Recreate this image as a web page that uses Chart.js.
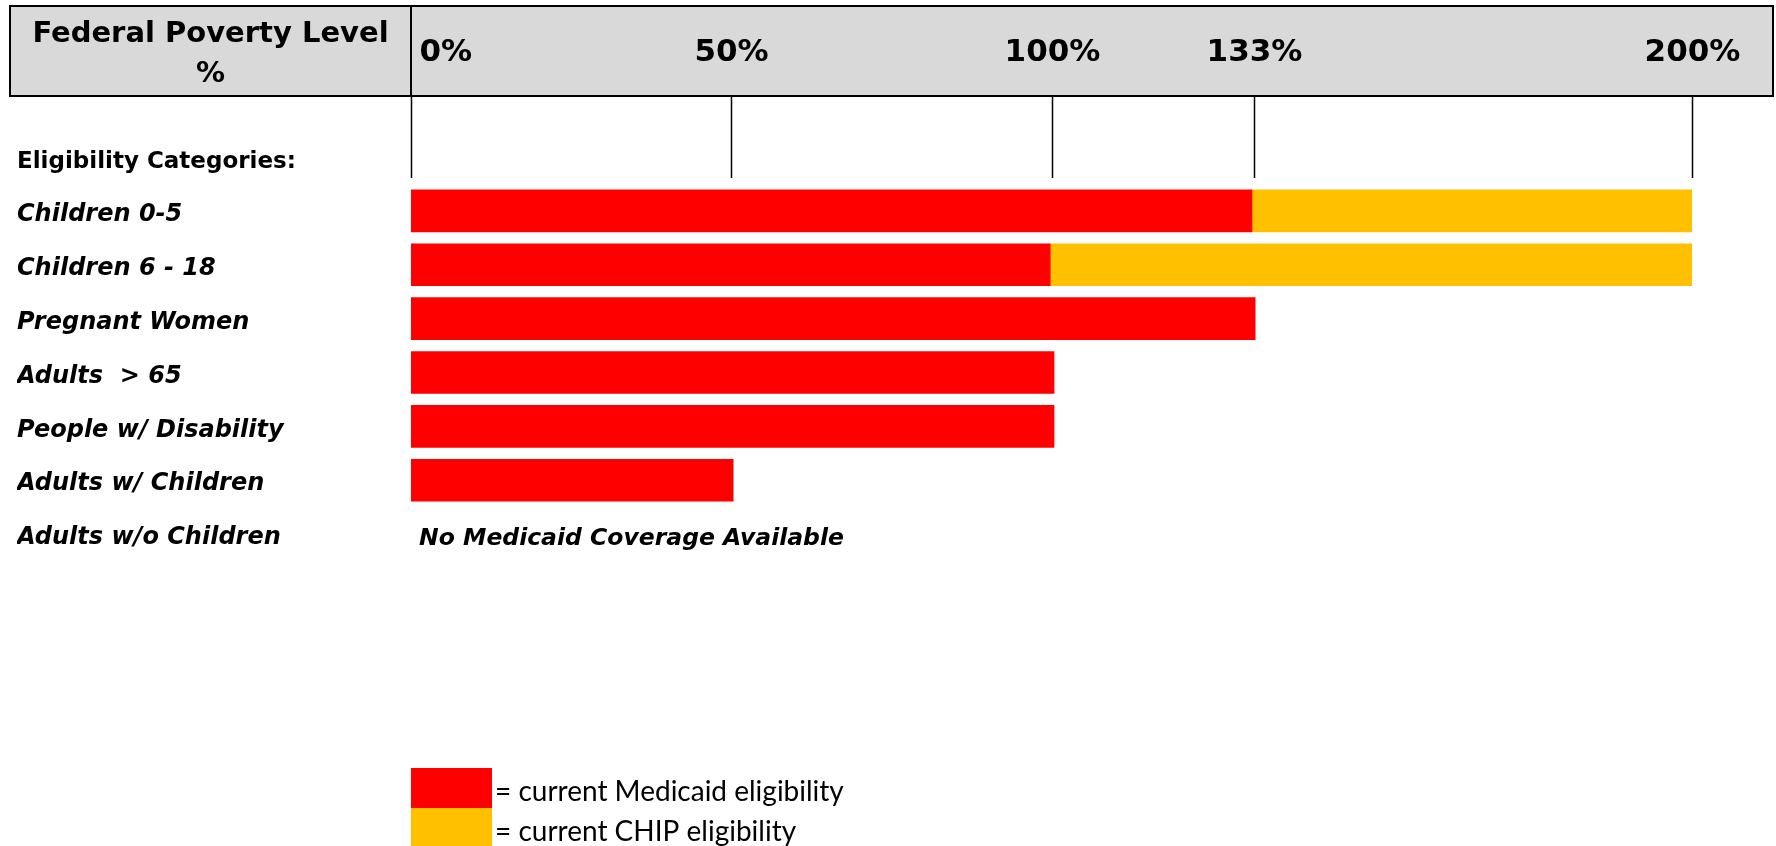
<!DOCTYPE html>
<html>
<head>
<meta charset="utf-8">
<script src="https://cdn.jsdelivr.net/npm/chart.js@4/dist/chart.umd.min.js"></script>
<style>
    html, body { margin: 0; padding: 0; background: #fff; }
    #wrap { width: 1776px; height: 846px; position: relative; }
</style>
</head>
<body>
<div id="wrap"><canvas id="fpl-chart"></canvas></div>
<script>
// Eligibility categories (rows, top to bottom)
const categories = [
    'Children 0-5',
    'Children 6 - 18',
    'Pregnant Women',
    'Adults  > 65',
    'People w/ Disability',
    'Adults w/ Children',
    'Adults w/o Children'
];

// % of Federal Poverty Level (null = no bar)
const medicaidValues = [131.3, 99.8, 131.8, 100.4, 100.4, 50.3, null];
const chipValues = [68.9, 100.5, null, null, null, null, null];

// header ticks (the "133%" line sits a little left of 133 in the original)
const tickValues = [0, 50, 100, 131.6, 200];
const tickLabels = ['0%', '50%', '100%', '133%', '200%'];

const legendLabels = ['= current Medicaid eligibility', '= current CHIP eligibility'];
const noCoverageText = 'No Medicaid Coverage Available';

const RED = '#ff0000';
const GOLD = '#ffc000';
const FONT = '"DejaVu Sans", Verdana, sans-serif';

/**
 * Draws the grey header band, tick lines, side notes and the legend
 */
const decorPlugin = {
    id: 'decor',
    afterDraw(chart) {
        const ctx = chart.ctx;
        const x = chart.scales.x;
        const y = chart.scales.y;
        const x0 = x.getPixelForValue(0);

        ctx.save();

        // header band
        const boxTop = 6, boxBottom = 96, boxLeft = 10, boxRight = 1773;
        ctx.fillStyle = '#d9d9d9';
        ctx.fillRect(boxLeft, boxTop, boxRight - boxLeft, boxBottom - boxTop);
        ctx.strokeStyle = '#000';
        ctx.lineWidth = 2;
        ctx.strokeRect(boxLeft, boxTop, boxRight - boxLeft, boxBottom - boxTop);
        ctx.beginPath();
        ctx.moveTo(x0, boxTop);
        ctx.lineTo(x0, boxBottom);
        ctx.stroke();

        ctx.fillStyle = '#000';
        ctx.textBaseline = 'middle';
        ctx.font = 'bold 29px ' + FONT;
        ctx.textAlign = 'center';
        ctx.fillText('Federal Poverty Level', (boxLeft + x0) / 2, 34);
        ctx.fillText('%', (boxLeft + x0) / 2, 74);

        // tick labels and lines
        ctx.font = 'bold 31px ' + FONT;
        ctx.lineWidth = 1.5;
        tickValues.forEach((v, i) => {
            const px = Math.round(x.getPixelForValue(v)) + 0.5;
            if (i === 0) {
                ctx.textAlign = 'left';
                ctx.fillText(tickLabels[i], px + 8, 53);
            } else {
                ctx.textAlign = 'center';
                ctx.fillText(tickLabels[i], px, 53);
            }
            ctx.beginPath();
            ctx.moveTo(px, boxBottom);
            ctx.lineTo(px, 178);
            ctx.stroke();
        });

        // row heading
        ctx.textAlign = 'left';
        ctx.font = 'bold 23px ' + FONT;
        ctx.fillText('Eligibility Categories:', 17, 162);

        // note for the empty row
        ctx.font = 'italic bold 23.5px ' + FONT;
        ctx.fillText(noCoverageText, x0 + 8, y.getPixelForValue(6) + 5);

        // legend
        const colors = [RED, GOLD];
        const swLeft = x0, swW = 81, swH = 40, swTop = 768;
        ctx.font = '28px Lato, "Open Sans", sans-serif';
        legendLabels.forEach((label, i) => {
            ctx.fillStyle = colors[i];
            ctx.fillRect(swLeft, swTop + i * swH, swW, swH);
            ctx.fillStyle = '#000';
            ctx.fillText(label, swLeft + swW + 3, swTop + i * swH + swH / 2 + 4);
        });

        ctx.restore();
    }
};

new Chart(document.getElementById('fpl-chart'), {
    type: 'bar',
    data: {
        labels: categories,
        datasets: [
            {
                label: 'Medicaid',
                data: medicaidValues,
                backgroundColor: RED,
                borderWidth: 0,
                barThickness: 42
            },
            {
                label: 'CHIP',
                data: chipValues,
                backgroundColor: GOLD,
                borderWidth: 0,
                barThickness: 42
            }
        ]
    },
    options: {
        indexAxis: 'y',
        responsive: true,
        maintainAspectRatio: false,
        animation: false,
        layout: {
            padding: { left: 17, right: 84, top: 184, bottom: 285 }
        },
        plugins: {
            legend: { display: false },
            tooltip: { enabled: false }
        },
        scales: {
            x: {
                stacked: true,
                min: 0,
                max: 200,
                display: false
            },
            y: {
                stacked: true,
                grid: { display: false },
                border: { display: false },
                afterFit: function(scale) {
                    scale.width = 394;
                },
                ticks: {
                    crossAlign: 'far',
                    labelOffset: 4,
                    color: '#000',
                    font: { family: FONT, size: 24, weight: 'bold', style: 'italic' }
                }
            }
        }
    },
    plugins: [decorPlugin]
});
</script>
</body>
</html>
